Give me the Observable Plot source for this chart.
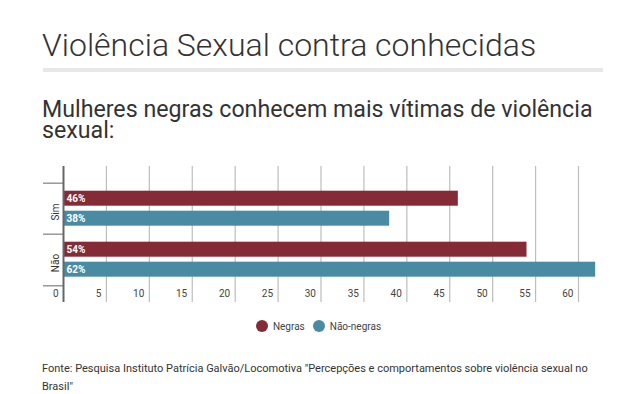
<!DOCTYPE html>
<html>
<head>
<meta charset="utf-8">
<script src="https://cdn.jsdelivr.net/npm/d3@7"></script>
<script src="https://cdn.jsdelivr.net/npm/@observablehq/plot@0.6"></script>
<style>
  html, body { margin: 0; padding: 0; background: #fff; }
  body { width: 643px; height: 394px; position: relative; overflow: hidden; font-family: Roboto, sans-serif; color: #333; }
  #title { position: absolute; left: 42px; top: 27px; font-size: 32px; font-weight: 300; line-height: 36px; white-space: nowrap; }
  #rule { position: absolute; left: 43px; top: 68px; width: 560px; height: 4px; background: #e8e8e8; }
  #subtitle { position: absolute; left: 42px; top: 99px; width: 575px; font-size: 23.2px; font-weight: 400; line-height: 21px; }
  #chart { position: absolute; left: 0; top: 150px; }
  #legend { position: absolute; left: 0; top: 320px; width: 643px; display: flex; justify-content: center; gap: 8px; font-size: 10px; color: #444; padding-right: 6px; box-sizing: border-box; }
  #legend .item { display: flex; align-items: center; gap: 5px; }
  #legend .sw { width: 12px; height: 12px; border-radius: 50%; display: inline-block; }
  #caption { position: absolute; left: 42px; top: 360px; width: 575px; font-size: 11px; line-height: 18px; color: #333; }
</style>
</head>
<body>
<div id="title">Violência Sexual contra conhecidas</div>
<div id="rule"></div>
<div id="subtitle">Mulheres negras conhecem mais vítimas de violência sexual:</div>
<div id="chart"></div>
<div id="legend"></div>
<div id="caption">Fonte: Pesquisa Instituto Patrícia Galvão/Locomotiva "Percepções e comportamentos sobre violência sexual no Brasil"</div>
<script>
// ---- data ----
const questions = ["Sim", "Não"];
const groups = ["Negras", "Não-negras"];
const negras = [46, 54];
const naoNegras = [38, 62];
const colors = ["#852b35", "#4a8ba4"];
const xTicks = [0, 5, 10, 15, 20, 25, 30, 35, 40, 45, 50, 55, 60];

const rows = [];
questions.forEach((q, i) => {
  rows.push({question: q, group: groups[0], value: negras[i]});
  rows.push({question: q, group: groups[1], value: naoNegras[i]});
});

// ---- layout ----
const W = 643, H = 160;
const mTop = 16, mBottom = 8, inset = 16.3;
const step = (H - mTop - mBottom - 2 * inset) / questions.length;

const barInsets = {
  "Negras": {top: 7.7, bottom: step - 23.4},
  "Não-negras": {top: 27.7, bottom: step - 43.4}
};

const chart = Plot.plot({
  width: W,
  height: H,
  marginLeft: 63,
  marginRight: 643 - 63 - 65 * (515 / 60),
  marginTop: mTop,
  marginBottom: mBottom,
  style: {fontFamily: "Roboto, sans-serif", fontSize: "10px", color: "#333", background: "transparent"},
  x: {domain: [0, 65], axis: null, label: null},
  y: {domain: questions, padding: 0, insetTop: inset, insetBottom: inset, axis: null, label: null},
  color: {domain: groups, range: colors},
  marks: [
    Plot.gridX(xTicks.filter(d => d > 0), {stroke: "#bdbdbd", strokeOpacity: 1, strokeWidth: 1.2}),
    ...groups.map(g => Plot.barX(rows.filter(r => r.group === g), {
      x: "value", y: "question", fill: "group",
      insetTop: barInsets[g].top, insetBottom: barInsets[g].bottom
    })),
    ...groups.map(g => Plot.text(rows.filter(r => r.group === g), {
      x: 0, y: "question", text: d => d.value + "%",
      dx: 3, dy: (barInsets[g].top + (step - barInsets[g].bottom)) / 2 - step / 2,
      textAnchor: "start", fill: "white", fontWeight: "bold", fontSize: 10
    })),
    Plot.ruleX([0], {stroke: "#666", strokeWidth: 2}),
    Plot.axisX(xTicks, {anchor: "bottom", label: null, tickSize: 0, tickPadding: 0, dy: -13, dx: -5, textAnchor: "end", fill: "#444", fontSize: 10}),
    Plot.axisY(questions, {label: null, tickSize: 0, tickRotate: -90, tickPadding: 5, dy: 3, fill: "#333", fontSize: 10}),
    Plot.axisY(questions, {label: null, tickSize: 20, text: null, stroke: "#666", dy: -step / 2}),
    Plot.axisY(questions.slice(-1), {label: null, tickSize: 20, text: null, stroke: "#666", dy: step / 2})
  ]
});
document.getElementById("chart").appendChild(chart);

// legend
const legend = document.getElementById("legend");
groups.forEach((g, i) => {
  const item = document.createElement("span");
  item.className = "item";
  const sw = document.createElement("span");
  sw.className = "sw";
  sw.style.background = colors[i];
  const label = document.createElement("span");
  label.textContent = g;
  item.appendChild(sw);
  item.appendChild(label);
  legend.appendChild(item);
});
</script>
</body>
</html>
